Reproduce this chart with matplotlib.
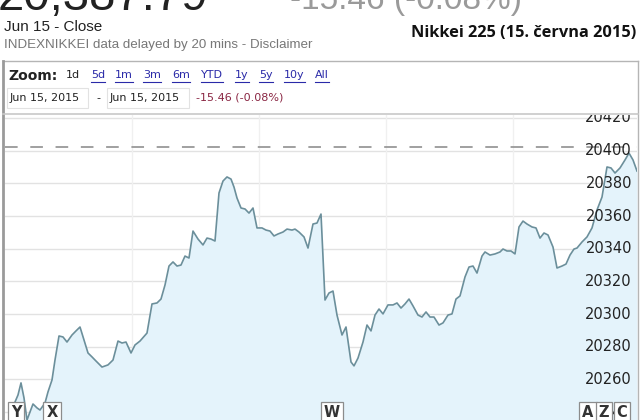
import matplotlib
matplotlib.use("Agg")
import matplotlib.pyplot as plt
from matplotlib.patches import Rectangle
from matplotlib.lines import Line2D

# intraday trace, minutes-ish offset from the left edge of the chart
minutes = [10, 13, 16, 19, 22, 25, 28, 32, 35, 40, 43, 47, 50, 54, 58, 62, 67, 71, 75, 79,
           83, 87, 90, 97, 103, 108, 113, 117, 121, 126, 130, 135, 142, 147, 152, 156, 160, 164, 168, 172,
           176, 180, 184, 188, 193, 198, 202, 206, 210, 214, 218, 222, 226, 229, 232, 236, 240, 244, 248, 252,
           257, 261, 265, 269, 273, 278, 282, 287, 290, 294, 299, 303, 308, 312, 316, 320, 324, 328, 332, 337,
           341, 346, 349, 353, 358, 362, 366, 370, 374, 378, 383, 388, 392, 396, 400, 404, 408, 413, 417, 421,
           425, 429, 434, 438, 443, 447, 451, 455, 460, 464, 468, 472, 477, 480, 485, 490, 495, 498, 502, 506,
           510, 514, 518, 522, 527, 531, 535, 539, 543, 548, 552, 557, 561, 565, 569, 572, 577, 582, 587, 592,
           597, 602, 606, 610, 615, 620, 624, 628, 632]
prices = [20246.2, 20250.5, 20257.9, 20248.7, 20235.2, 20240.1, 20245.0, 20242.6, 20241.3, 20245.6,
          20252.4, 20259.7, 20271.9, 20286.6, 20286.0, 20282.9, 20287.2, 20289.7, 20292.1, 20284.2,
          20276.2, 20273.8, 20271.9, 20267.6, 20268.9, 20271.9, 20283.5, 20282.3, 20282.9, 20276.2,
          20281.1, 20283.5, 20288.4, 20306.2, 20306.8, 20309.2, 20317.8, 20329.4, 20331.9, 20329.4,
          20330.0, 20335.5, 20334.3, 20350.8, 20345.9, 20342.3, 20346.5, 20345.9, 20344.7, 20374.1,
          20381.4, 20383.9, 20382.6, 20377.7, 20371.0, 20364.9, 20364.3, 20361.8, 20364.9, 20352.7,
          20352.7, 20351.4, 20350.8, 20347.8, 20349.0, 20350.2, 20352.0, 20351.4, 20352.0, 20350.2,
          20347.2, 20340.4, 20355.1, 20355.7, 20361.2, 20308.6, 20312.9, 20314.1, 20299.4, 20287.2,
          20292.1, 20270.7, 20268.3, 20273.1, 20282.9, 20293.3, 20289.7, 20299.4, 20303.1, 20300.1,
          20305.6, 20305.6, 20306.8, 20303.7, 20306.2, 20309.2, 20305.0, 20299.4, 20298.2, 20301.3,
          20298.2, 20298.2, 20293.3, 20294.6, 20299.4, 20300.1, 20309.2, 20311.1, 20322.7, 20328.8,
          20329.4, 20325.1, 20335.5, 20338.0, 20336.1, 20336.8, 20338.0, 20339.8, 20338.6, 20338.6,
          20336.8, 20353.3, 20356.9, 20355.1, 20353.3, 20352.7, 20346.5, 20349.6, 20348.4, 20341.0,
          20328.2, 20329.4, 20330.6, 20336.1, 20339.8, 20340.4, 20344.1, 20347.2, 20352.7, 20363.7,
          20371.6, 20390.0, 20389.4, 20386.3, 20389.4, 20394.3, 20398.5, 20394.3, 20387.5]
prev_close = 20402.5
y_ticks = [20240, 20260, 20280, 20300, 20320, 20340, 20360, 20380, 20400, 20420]
v_grid = [127, 254, 381, 508]
zoom_links = ["5d", "1m", "3m", "6m", "YTD", "1y", "5y", "10y", "All"]
zoom_x = [91, 115, 143, 172, 201, 235, 259, 284, 315]
flags = ["Y", "X", "W", "A", "Z", "C"]
flag_x = [16, 52, 332, 588, 604, 622]

W, H = 640, 420
fig = plt.figure(figsize=(6.4, 4.2), dpi=100)


def fx(x):
    return x / W


def fy(y):
    return 1 - y / H


# header (top line is cut off in the screenshot)
fig.text(fx(-2), fy(10), "20,387.79", fontsize=34, color="#222222",
         family="Liberation Sans", va="baseline")
fig.text(fx(290), fy(9), "-15.46 (-0.08%)", fontsize=24, color="#9a9a9a",
         family="Liberation Sans", va="baseline")
fig.text(fx(4), fy(27), "Jun 15 - Close", fontsize=11, color="#222222",
         family="Liberation Sans", va="center")
fig.text(fx(4), fy(45), "INDEXNIKKEI data delayed by 20 mins - Disclaimer", fontsize=9.6,
         color="#777777", family="Liberation Sans", va="center")
fig.text(fx(636), fy(33), "Nikkei 225 (15. června 2015)", fontsize=11.8, fontweight="bold",
         color="#111111", family="Open Sans", ha="right", va="center")

# panel frame
fig.add_artist(Line2D([fx(3), fx(638)], [fy(61), fy(61)], color="#b5b5b5", lw=1))
fig.add_artist(Line2D([fx(3), fx(3)], [fy(61), fy(420)], color="#9a9a9a", lw=2))
fig.add_artist(Line2D([fx(638), fx(638)], [fy(61), fy(420)], color="#b5b5b5", lw=1))
fig.add_artist(Line2D([fx(3), fx(638)], [fy(114), fy(114)], color="#c8c8c8", lw=1.2))

fig.text(fx(8), fy(76), "Zoom:", fontsize=10, fontweight="bold", color="#222222",
         family="DejaVu Sans", va="center")
fig.text(fx(66), fy(75), "1d", fontsize=8, color="#222222", family="DejaVu Sans", va="center")
renderer = fig.canvas.get_renderer()
for lab, x in zip(zoom_links, zoom_x):
    t = fig.text(fx(x), fy(75), lab, fontsize=8, color="#2a2aa8", family="DejaVu Sans", va="center")
    bb = t.get_window_extent(renderer)
    fig.add_artist(Line2D([fx(bb.x0), fx(bb.x1)], [fy(82), fy(82)], color="#2a2aa8", lw=0.8))

for x0, x1 in [(7, 88), (107, 189)]:
    fig.add_artist(Rectangle((fx(x0), fy(108)), fx(x1 - x0), 20 / H, fill=False,
                             edgecolor="#e2e2e2", lw=0.8))
fig.text(fx(10), fy(98), "Jun 15, 2015", fontsize=8, color="#222222", family="DejaVu Sans", va="center")
fig.text(fx(96), fy(98), "-", fontsize=8, color="#222222", family="DejaVu Sans", va="center")
fig.text(fx(110), fy(98), "Jun 15, 2015", fontsize=8, color="#222222", family="DejaVu Sans", va="center")
fig.text(fx(196), fy(98), "-15.46 (-0.08%)", fontsize=8, color="#8a2643", family="DejaVu Sans",
         va="center")

# chart area
ax = fig.add_axes([fx(5), 0, fx(632), (H - 115) / H])
ax.set_xlim(0, 632)
ax.set_ylim(20235.2, 20421.8)
ax.set_axis_off()

for v in y_ticks:
    ax.axhline(v, color="#e2e2e2", lw=1, zorder=0)
for m in v_grid:
    ax.axvline(m, color="#f0f0f0", lw=1, zorder=0)

ax.fill_between(minutes, prices, 20200, color="#e4f3fb", zorder=1, lw=0)
ax.plot(minutes, prices, color="#6b8f9b", lw=1.2, zorder=3)
ax.axhline(prev_close, color="#999999", lw=1.3, dashes=(7, 7), zorder=2)

for v in y_ticks:
    ax.text(627, v, str(v), fontsize=10.5, color="#222222", family="DejaVu Sans",
            ha="right", va="center", zorder=4, clip_on=True)

for lab, x in zip(flags, flag_x):
    ax.text(x - 5, 20239.8, lab, fontsize=10.5, fontweight="bold", color="#333333",
            family="DejaVu Sans", ha="center", va="center", zorder=5, clip_on=True,
            bbox=dict(boxstyle="square,pad=0.2", facecolor="white", edgecolor="#8c8c8c", lw=0.9))

fig.savefig("out.png", dpi=100)
